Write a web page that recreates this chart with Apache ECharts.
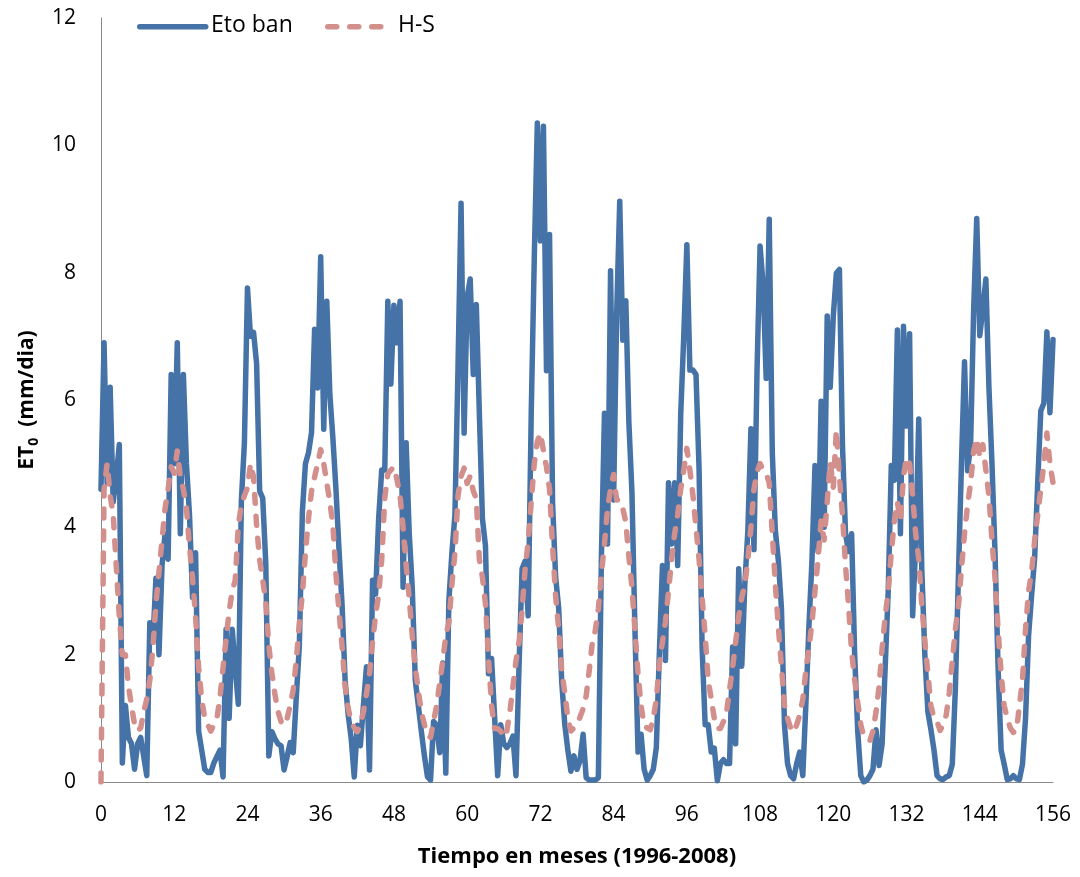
<!DOCTYPE html>
<html>
<head>
<meta charset="utf-8">
<script src="https://cdn.jsdelivr.net/npm/echarts@6/dist/echarts.min.js"></script>
<style>
html,body{margin:0;padding:0;background:#fff;}
#chart{width:1080px;height:877px;}
</style>
</head>
<body>
<div id="chart"></div>
<script>
// Step between values in months (values at half-month spacing)
const monthStep = 0.5;
const xTicks = [0, 12, 24, 36, 48, 60, 72, 84, 96, 108, 120, 132, 144, 156];
const seriesNames = ['Eto ban', 'H-S'];

// Eto ban (mm/dia), one array per year (24 half-month values each)
const etoBan1996 = [4.6, 6.9, 4.7, 6.2, 4.4, 4.8, 5.3, 0.3, 1.2, 0.7, 0.6, 0.2, 0.6, 0.7, 0.4, 0.1, 2.5, 2.2, 3.2, 2.0, 3.4, 3.9, 3.5, 6.4];
const etoBan1997 = [5.0, 6.9, 3.9, 6.4, 5.0, 4.2, 2.9, 3.6, 0.8, 0.5, 0.2, 0.15, 0.15, 0.3, 0.4, 0.5, 0.08, 2.4, 1.0, 2.4, 1.8, 1.22, 4.41, 5.33];
const etoBan1998 = [7.76, 7.0, 7.06, 6.57, 4.57, 4.46, 3.44, 0.41, 0.79, 0.68, 0.6, 0.57, 0.19, 0.4, 0.62, 0.46, 1.33, 2.14, 4.25, 5.0, 5.17, 5.49, 7.11, 6.19];
const etoBan1999 = [8.25, 5.54, 7.55, 6.09, 5.4, 4.6, 3.65, 2.79, 1.6, 1.06, 0.68, 0.08, 0.89, 0.57, 1.2, 1.81, 0.19, 3.17, 2.95, 4.14, 4.9, 4.9, 7.55, 6.25];
const etoBan2000 = [7.49, 6.9, 7.55, 3.06, 5.33, 3.92, 3.06, 1.6, 1.2, 0.79, 0.41, 0.08, 0.03, 0.95, 0.89, 0.46, 1.87, 0.14, 2.84, 3.6, 4.2, 6.5, 9.09, 5.48];
const etoBan2001 = [7.62, 7.9, 6.4, 7.5, 5.79, 4.14, 3.71, 1.7, 1.94, 1.02, 0.1, 0.9, 0.6, 0.54, 0.6, 0.72, 0.1, 1.82, 3.35, 3.47, 2.61, 5.79, 8.23, 10.35];
const etoBan2002 = [8.5, 10.3, 6.46, 8.6, 4.38, 3.22, 2.73, 1.57, 0.9, 0.5, 0.17, 0.41, 0.2, 0.34, 0.75, 0.07, 0.03, 0.03, 0.03, 0.07, 3.54, 5.79, 3.74, 8.03];
const etoBan2003 = [4.43, 7.35, 9.12, 6.94, 7.56, 5.65, 4.56, 2.38, 0.47, 0.75, 0.2, 0.03, 0.1, 0.2, 0.54, 2.04, 3.4, 1.91, 4.7, 3.74, 4.7, 3.4, 5.79, 7.01];
const etoBan2004 = [8.44, 6.47, 6.47, 6.4, 4.93, 2.12, 0.9, 0.9, 0.47, 0.53, 0.02, 0.29, 0.35, 0.29, 0.29, 2.12, 0.6, 3.35, 1.82, 3.1, 3.95, 5.55, 3.65, 6.46];
const etoBan2005 = [8.42, 7.8, 6.34, 8.84, 5.18, 3.95, 3.47, 2.73, 0.9, 0.29, 0.1, 0.05, 0.29, 0.47, 0.1, 1.21, 2.43, 3.47, 4.97, 3.62, 5.98, 4.0, 7.32, 6.2];
const etoBan2006 = [7.32, 7.99, 8.05, 5.3, 3.9, 3.62, 3.9, 2.0, 0.8, 0.1, 0.0, 0.03, 0.1, 0.2, 0.82, 0.26, 0.6, 1.8, 3.0, 4.97, 4.74, 7.1, 3.9, 7.16];
const etoBan2007 = [5.59, 7.04, 2.61, 3.73, 5.7, 3.34, 2.0, 1.1, 0.82, 0.5, 0.1, 0.05, 0.04, 0.08, 0.1, 0.28, 1.46, 3.23, 5.0, 6.6, 4.89, 5.3, 7.43, 8.85];
const etoBan2008 = [7.01, 7.43, 7.9, 6.2, 5.0, 3.6, 1.8, 0.5, 0.28, 0.04, 0.05, 0.1, 0.05, 0.04, 0.28, 1.0, 2.3, 2.94, 3.53, 4.71, 5.83, 5.95, 7.07, 5.8];
const etoBanEnd = [6.95];

// H-S (mm/dia), one array per year
const hs1996 = [0, 4.6, 5.0, 4.5, 4.2, 3.4, 2.6, 2.0, 2.0, 1.5, 1.2, 0.9, 0.8, 0.85, 1.1, 1.3, 1.6, 2.1, 2.8, 3.3, 3.8, 4.3, 4.6, 4.95];
const hs1997 = [4.85, 5.2, 4.8, 4.6, 4.3, 3.7, 3.2, 2.6, 1.8, 1.3, 1.0, 0.9, 0.8, 0.9, 1.0, 1.33, 1.8, 2.25, 2.68, 3.0, 3.17, 4.03, 4.35, 4.5];
const hs1998 = [4.62, 5.0, 4.79, 4.03, 3.49, 3.17, 2.84, 2.14, 1.71, 1.38, 1.11, 0.95, 0.89, 1.0, 1.2, 1.45, 1.9, 2.5, 2.95, 3.6, 4.14, 4.57, 4.79, 5.0];
const hs1999 = [5.22, 5.0, 4.7, 4.4, 4.03, 3.27, 2.68, 2.14, 1.5, 1.16, 0.95, 0.85, 0.79, 0.9, 1.1, 1.38, 1.7, 2.2, 2.62, 2.95, 3.49, 4.46, 4.84, 4.9];
const hs2000 = [4.95, 4.75, 4.5, 4.0, 3.4, 2.9, 2.3, 1.8, 1.43, 1.1, 0.9, 0.75, 0.7, 0.95, 1.2, 1.55, 1.9, 2.3, 2.5, 3.1, 3.6, 4.5, 4.8, 4.93];
const hs2001 = [4.69, 4.81, 4.57, 4.45, 3.5, 3.22, 2.8, 1.94, 1.2, 0.84, 0.84, 0.8, 0.7, 0.8, 1.1, 1.5, 1.9, 2.2, 2.7, 3.35, 3.77, 4.4, 5.0, 5.35];
const hs2002 = [5.48, 5.2, 4.95, 4.6, 3.7, 2.92, 2.4, 1.75, 1.4, 1.0, 0.8, 0.85, 0.9, 1.02, 1.15, 1.35, 1.75, 2.18, 2.38, 2.72, 3.27, 3.74, 4.29, 4.6];
const hs2003 = [4.83, 4.43, 4.43, 4.3, 4.08, 3.54, 3.06, 2.38, 1.7, 1.2, 0.88, 0.85, 0.82, 1.0, 1.3, 1.85, 2.2, 2.52, 3.0, 3.5, 3.9, 4.2, 4.6, 4.9];
const hs2004 = [5.24, 4.9, 4.5, 4.0, 3.5, 2.9, 2.3, 1.6, 1.3, 1.0, 0.84, 0.84, 0.95, 1.09, 1.45, 1.8, 2.2, 2.6, 2.9, 3.1, 3.5, 4.0, 4.6, 4.87];
const hs2005 = [5.0, 4.9, 4.85, 4.7, 3.9, 3.1, 2.43, 1.82, 1.2, 1.0, 0.85, 0.78, 0.9, 1.05, 1.3, 1.75, 2.1, 2.5, 3.0, 3.5, 4.1, 3.8, 4.4, 5.03];
const hs2006 = [4.63, 5.53, 4.8, 4.2, 3.4, 2.78, 2.05, 1.6, 1.25, 0.9, 0.71, 0.68, 0.65, 0.8, 1.1, 1.5, 2.1, 2.6, 3.0, 3.6, 4.1, 4.4, 4.1, 4.8];
const hs2007 = [5.1, 5.0, 4.5, 3.9, 3.5, 2.78, 2.22, 1.7, 1.2, 1.0, 0.95, 0.81, 0.9, 1.05, 1.4, 1.9, 2.4, 2.76, 3.35, 3.9, 4.35, 4.7, 5.2, 5.4];
const hs2008 = [5.1, 5.3, 4.9, 4.5, 3.8, 3.2, 2.4, 1.7, 1.2, 1.0, 0.85, 0.78, 0.8, 1.2, 1.6, 2.4, 3.0, 3.3, 3.8, 4.2, 4.6, 5.0, 5.48, 5.0];
const hsEnd = [4.7];

const etoBan = [].concat(etoBan1996, etoBan1997, etoBan1998, etoBan1999, etoBan2000, etoBan2001,
  etoBan2002, etoBan2003, etoBan2004, etoBan2005, etoBan2006, etoBan2007, etoBan2008, etoBanEnd);
const hs = [].concat(hs1996, hs1997, hs1998, hs1999, hs2000, hs2001, hs2002, hs2003, hs2004,
  hs2005, hs2006, hs2007, hs2008, hsEnd);

const toPairs = arr => arr.map((v, i) => [i * monthStep, v]);

const FONT = '"Open Sans", Lato, sans-serif';
const BLUE = '#4572A7';
const PINK = '#D38F8C';
const LW = 5.5;
const PINK_DASH = [9, 13];

const chart = echarts.init(document.getElementById('chart'), null, {renderer: 'canvas'});
chart.setOption({
  animation: false,
  backgroundColor: '#ffffff',
  textStyle: {fontFamily: FONT},
  grid: {left: 101, right: 27, top: 18, bottom: 95, containLabel: false},
  legend: {show: false, data: seriesNames},
  graphic: [
    {type: 'line', left: 137, top: 24, silent: true,
      shape: {x1: 0, y1: 0, x2: 66, y2: 0},
      style: {stroke: BLUE, lineWidth: LW, lineCap: 'round'}},
    {type: 'text', left: 211, top: 14, silent: true,
      style: {text: seriesNames[0], font: '23px "Open Sans"', fill: '#000'}},
    {type: 'line', left: 325, top: 24, silent: true,
      shape: {x1: 0, y1: 0, x2: 58, y2: 0},
      style: {stroke: PINK, lineWidth: LW, lineCap: 'round', lineDash: PINK_DASH}},
    {type: 'text', left: 398, top: 14, silent: true,
      style: {text: seriesNames[1], font: '23px "Open Sans"', fill: '#000'}}
  ],
  xAxis: {
    type: 'value', min: 0, max: 156, interval: 12,
    axisLine: {show: true, lineStyle: {color: '#898989', width: 1}},
    axisTick: {show: false},
    splitLine: {show: false},
    axisLabel: {fontFamily: FONT, fontSize: 21, color: '#000', margin: 23,
      formatter: v => xTicks.indexOf(v) >= 0 ? String(v) : ''},
    name: 'Tiempo en meses (1996-2008)',
    nameLocation: 'middle', nameGap: 64,
    nameTextStyle: {fontFamily: FONT, fontSize: 22, fontWeight: 'bold', color: '#000'}
  },
  yAxis: {
    type: 'value', min: 0, max: 12, interval: 2,
    axisLine: {show: true, lineStyle: {color: '#898989', width: 1}},
    axisTick: {show: false},
    splitLine: {show: false},
    axisLabel: {fontFamily: FONT, fontSize: 21, color: '#000', margin: 25},
    name: '{t|ET}{s|0}{t|  (mm/dia)}',
    nameLocation: 'middle', nameGap: 55, nameRotate: 90,
    nameTextStyle: {
      rich: {
        t: {fontFamily: FONT, fontSize: 21, fontWeight: 'bold', color: '#000', lineHeight: 28, verticalAlign: 'middle'},
        s: {fontFamily: FONT, fontSize: 14, fontWeight: 'bold', color: '#000', lineHeight: 28, verticalAlign: 'bottom'}
      }
    }
  },
  series: [
    {
      name: seriesNames[0], type: 'line', data: toPairs(etoBan),
      symbol: 'none', showSymbol: false,
      lineStyle: {color: BLUE, width: LW, join: 'round', cap: 'round'},
      itemStyle: {color: BLUE},
      emphasis: {disabled: true},
      z: 2
    },
    {
      name: seriesNames[1], type: 'line', data: toPairs(hs),
      symbol: 'none', showSymbol: false,
      lineStyle: {color: PINK, width: LW, type: PINK_DASH, cap: 'round', join: 'round'},
      itemStyle: {color: PINK},
      emphasis: {disabled: true},
      z: 3
    }
  ]
});
</script>
</body>
</html>
